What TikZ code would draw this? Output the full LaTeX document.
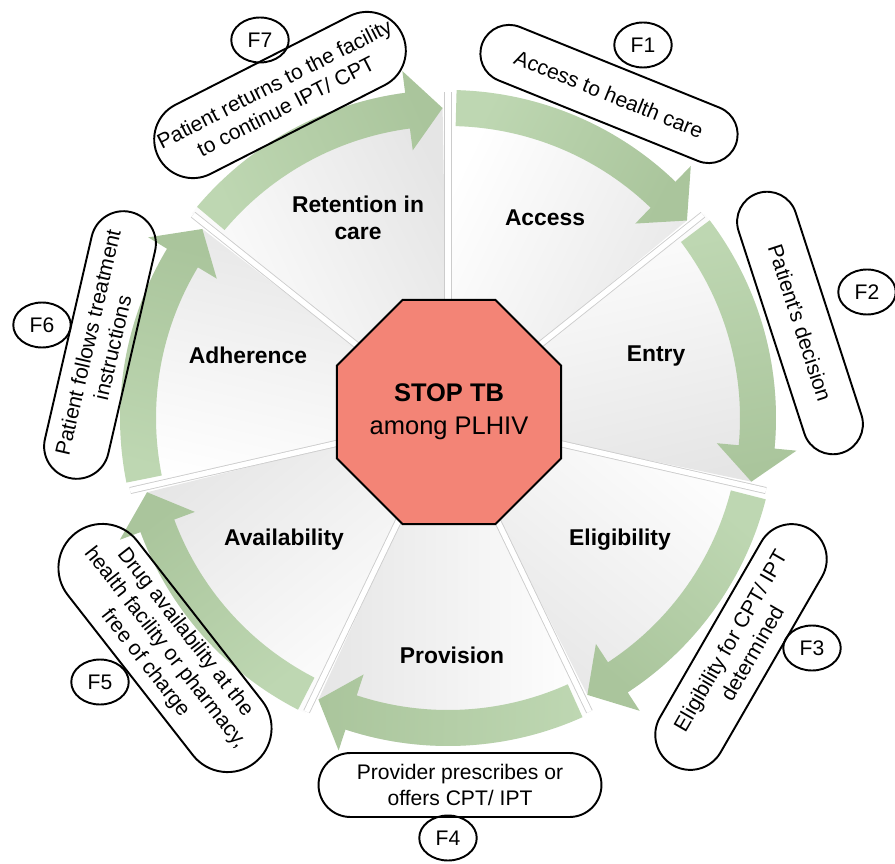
\documentclass[tikz,border=0pt]{standalone}
\usepackage{fontspec}
\setmainfont{Liberation Sans}
\usetikzlibrary{shapes,arrows,positioning}

\definecolor{ringlight}{RGB}{190,215,178}
\definecolor{ringdark}{RGB}{170,197,156}
\definecolor{stopred}{RGB}{243,132,118}

\tikzset{
  phase/.style={font=\fontsize{13}{15.5}\selectfont\bfseries, align=center},
  bubble/.style={rounded rectangle, draw, line width=1.1pt, align=center,
    font=\fontsize{12}{14.4}\selectfont, minimum width=5.6cm, inner sep=2pt},
  factor/.style={ellipse, draw, line width=1.1pt, minimum width=1.15cm,
    minimum height=0.9cm, inner sep=0pt, font=\fontsize{12}{14}\selectfont},
  divider/.style={draw=black!20, line width=0.5pt, double=white, double distance=3pt}
}

\begin{document}
\begin{tikzpicture}[x=0.02cm, y=0.02cm]
  \useasboundingbox (0,0) rectangle (895,863);

  \begin{scope}[shift={(448,445)}]
    % Wedges
    \foreach \k in {0,...,6} {
      \pgfmathsetmacro{\a}{90-\k*360/7}
      \pgfmathsetmacro{\e}{90-(\k+1)*360/7+1}
      \pgfmathsetmacro{\h}{\e+6.5}
      \pgfmathsetmacro{\m}{\a-180/7}
      \shade[top color=white, bottom color=black!10, shading angle=\m]
        (0,0) -- (\a:328) arc[start angle=\a, end angle=\h, radius=6.56cm] -- (\e:310) -- cycle;
    }
    % Dividers
    \foreach \k in {0,...,6}
      \draw[divider] (0,0) -- ({90-\k*360/7}:326);
    % Arrows
    \foreach \k in {0,...,6} {
      \pgfmathsetmacro{\s}{90-\k*360/7-1.5}
      \pgfmathsetmacro{\e}{90-(\k+1)*360/7+1}
      \pgfmathsetmacro{\h}{\e+6.5}
      \pgfmathsetmacro{\m}{\s-180/7}
      \shade[top color=ringlight, bottom color=ringdark, shading angle=\m]
        (\s:292) -- (\s:328) arc[start angle=\s, end angle=\h, radius=6.56cm]
        -- (\h:350) -- (\e:310) -- (\h:270) -- (\h:292)
        arc[start angle=\h, end angle=\s, radius=5.84cm] -- cycle;
    }
  \end{scope}

  % Centre
  \node[regular polygon, regular polygon sides=8, minimum size=4.2cm, inner sep=0pt,
    draw, line width=1.1pt, fill=stopred, align=center,
    font=\fontsize{14.5}{19}\selectfont] (stop) at (449,451) {\textbf{STOP TB}\\among PLHIV};

  % Steps
  \node[phase] (retention) at (358,645) {Retention in\\care};
  \node[phase] (access) at (545,645) {Access};
  \node[phase] (entry) at (656,507) {Entry};
  \node[phase] (eligibility) at (620,323) {Eligibility};
  \node[phase] (provision) at (452,208) {Provision};
  \node[phase] (availability) at (284,323) {Availability};
  \node[phase] (adherence) at (248,508) {Adherence};

  % Notes
  \node[bubble, minimum height=1.15cm, rotate=-22] (accessnote) at (609,769) {Access to health care};
  \node[bubble, minimum height=1.2cm, rotate=-72] (entrynote) at (800,540) {Patient's decision};
  \node[bubble, minimum height=1.4cm, rotate=60] (eligibilitynote) at (741,216) {Eligibility for CPT/ IPT\\determined};
  \node[bubble, minimum width=5.8cm, minimum height=1.28cm] (provisionnote) at (460,78) {Provider prescribes or\\offers CPT/ IPT};
  \node[bubble, minimum height=1.76cm, rotate=-52] (availabilitynote) at (165,215) {Drug availability at the\\health facility or pharmacy,\\free of charge};
  \node[bubble, minimum height=1.3cm, rotate=77] (adherencenote) at (100,518) {Patient follows treatment\\instructions};
  \node[bubble, minimum height=1.55cm, rotate=27] (retentionnote) at (280,768) {Patient returns to the facility\\to continue IPT/ CPT};

  % Factors
  \node[factor] (f1) at (643,818) {F1};
  \node[factor] (f2) at (867,571) {F2};
  \node[factor] (f3) at (812,215) {F3};
  \node[factor] (f4) at (448,25) {F4};
  \node[factor] (f5) at (100,181) {F5};
  \node[factor] (f6) at (42,538) {F6};
  \node[factor] (f7) at (260,823) {F7};
\end{tikzpicture}
\end{document}
